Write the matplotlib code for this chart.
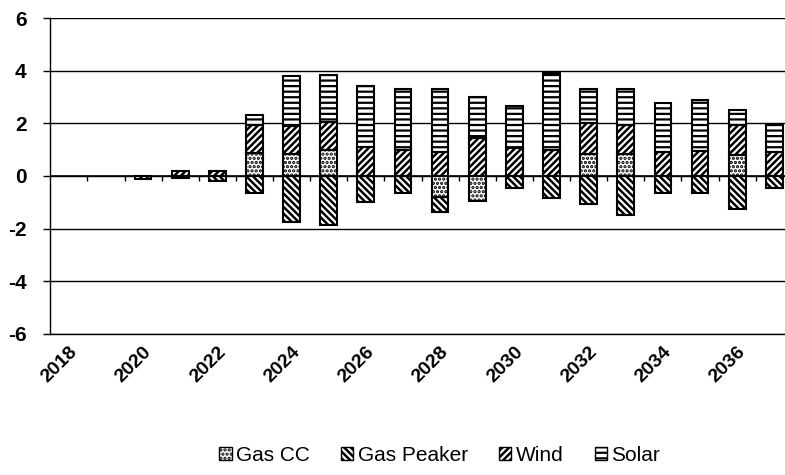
import matplotlib.pyplot as plt
import numpy as np
from matplotlib.patches import Patch
from matplotlib.legend_handler import HandlerTuple

years = list(range(2018, 2038))
gas_cc = [0, 0, 0, 0, 0, 0.87, 0.85, 1.0, 0, 0,
          -0.8, -0.95, 0, 0, 0.85, 0.85, 0, 0, 0.8, 0]
gas_peaker = [0, 0, -0.1, -0.08, -0.2, -0.65, -1.75, -1.85, -1.0, -0.65,
              -0.55, 0, -0.45, -0.85, -1.05, -1.5, -0.65, -0.63, -1.25, -0.45]
wind = [0, 0, 0, 0.2, 0.2, 1.07, 1.05, 1.05, 1.1, 1.0,
        0.9, 1.45, 1.05, 1.0, 1.15, 1.1, 0.9, 0.95, 1.15, 0.9]
solar = [0, 0, 0, 0, 0, 0.38, 1.9, 1.8, 2.3, 2.3,
         2.4, 1.55, 1.6, 2.9, 1.3, 1.35, 1.87, 1.95, 0.55, 1.05]
series_names = ['Gas CC', 'Gas Peaker', 'Wind', 'Solar']

# (face, hatch colour, hatch) per series
styles = [
    ('white', 'black', '....'),
    ('black', 'white', '\\\\\\\\\\'),
    ('black', 'white', '/////'),
    ('white', 'black', '---'),
]

plt.rcParams['font.family'] = ['Liberation Sans', 'DejaVu Sans']
plt.rcParams['hatch.linewidth'] = 1.6

fig = plt.figure(figsize=(7.85, 4.75), dpi=100)
ax = fig.add_axes([0.064, 0.297, 0.946, 0.665])

x = np.arange(len(years))
width = 0.45
pos_base = np.zeros(len(years))
neg_base = np.zeros(len(years))

for vals, (face, hc, hatch) in zip([gas_cc, gas_peaker, wind, solar], styles):
    vals = np.array(vals, dtype=float)
    bottoms = np.where(vals >= 0, pos_base, neg_base)
    keep = vals != 0
    ax.bar(x[keep], vals[keep], bottom=bottoms[keep], width=width,
           color=face, edgecolor=hc, hatch=hatch, linewidth=0, zorder=3)
    ax.bar(x[keep], vals[keep], bottom=bottoms[keep], width=width,
           fill=False, edgecolor='black', linewidth=1.5, zorder=4)
    pos_base += np.where(vals > 0, vals, 0)
    neg_base += np.where(vals < 0, vals, 0)

ax.set_xlim(-0.5, len(years) - 0.5)
ax.set_ylim(-6, 6)
ax.set_yticks(range(-6, 7, 2))
ax.set_yticklabels([str(v) for v in range(-6, 7, 2)], fontsize=15, fontweight='bold')
ax.yaxis.grid(True, color='black', linewidth=1.0)
ax.set_axisbelow(True)
ax.tick_params(axis='y', direction='out', length=5, width=1, pad=12)

for side in ['top', 'right']:
    ax.spines[side].set_visible(False)
ax.spines['left'].set_linewidth(1.0)
ax.spines['bottom'].set_linewidth(1.0)

# category axis crossing at zero, with marks between categories
ax.axhline(0, color='black', linewidth=1.2, zorder=2)
ax.vlines(x[:-1] + 0.5, -0.19, 0, color='black', linewidth=1.0, zorder=2)

ax.set_xticks(x[::2])
ax.set_xticklabels([str(y) for y in years[::2]], rotation=45, ha='right',
                   rotation_mode='anchor', fontsize=14, fontweight='bold')
ax.tick_params(axis='x', length=0, pad=7)

handles = []
for face, hc, hatch in styles:
    handles.append((Patch(facecolor=face, edgecolor=hc, hatch=hatch, linewidth=0),
                    Patch(fill=False, edgecolor='black', linewidth=1.0)))
fig.legend(handles, series_names, loc='center', bbox_to_anchor=(0.56, 0.042),
           ncol=4, frameon=False, fontsize=15, handlelength=0.6, handleheight=0.6,
           handletextpad=0.2, columnspacing=1.5,
           handler_map={tuple: HandlerTuple(ndivide=1, pad=0)})

fig.savefig('out.png', dpi=100)
